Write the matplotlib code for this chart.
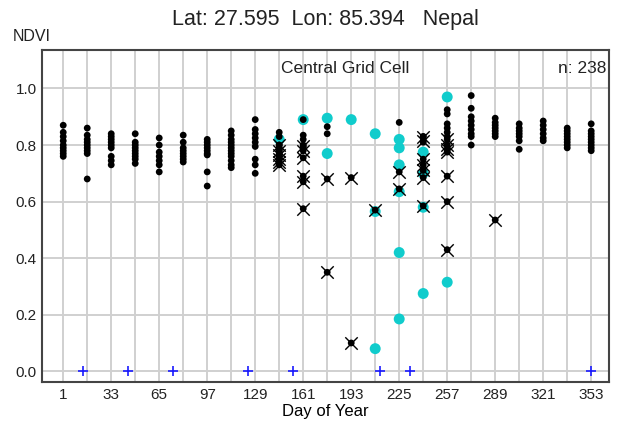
import matplotlib.pyplot as plt

plt.rcParams["font.family"] = ["Liberation Sans", "DejaVu Sans"]

days = list(range(1, 354, 16))
tick_days = list(range(1, 354, 32))

# black dots: NDVI values per composite day
ndvi = {
    1: [0.87, 0.845, 0.83, 0.815, 0.80, 0.79, 0.78, 0.77, 0.76],
    17: [0.86, 0.835, 0.82, 0.81, 0.80, 0.79, 0.78, 0.77, 0.68],
    33: [0.84, 0.83, 0.82, 0.81, 0.80, 0.79, 0.76, 0.745, 0.73],
    49: [0.84, 0.81, 0.80, 0.79, 0.78, 0.77, 0.76, 0.75, 0.735],
    65: [0.825, 0.80, 0.775, 0.76, 0.745, 0.73, 0.705],
    81: [0.835, 0.81, 0.79, 0.78, 0.77, 0.76, 0.75, 0.74],
    97: [0.82, 0.81, 0.80, 0.79, 0.78, 0.77, 0.765, 0.705, 0.655],
    113: [0.85, 0.835, 0.82, 0.81, 0.80, 0.79, 0.78, 0.77, 0.76, 0.745, 0.73, 0.72],
    129: [0.89, 0.855, 0.84, 0.825, 0.81, 0.795, 0.75, 0.73, 0.70],
    145: [0.845, 0.83, 0.80, 0.79, 0.78, 0.77, 0.76],
    161: [0.89, 0.835, 0.82, 0.80, 0.79],
    177: [0.865, 0.84],
    225: [0.88],
    241: [0.83, 0.81],
    257: [0.925, 0.91, 0.875, 0.86, 0.845, 0.83],
    273: [0.975, 0.93, 0.90, 0.885, 0.87, 0.855, 0.84, 0.83, 0.80],
    289: [0.895, 0.88, 0.87, 0.86, 0.85, 0.84, 0.83],
    305: [0.875, 0.86, 0.85, 0.84, 0.83, 0.815, 0.785],
    321: [0.885, 0.87, 0.855, 0.84, 0.825, 0.815],
    337: [0.86, 0.85, 0.84, 0.83, 0.82, 0.81, 0.80, 0.79],
    353: [0.875, 0.85, 0.84, 0.83, 0.82, 0.81, 0.80, 0.79, 0.78],
}

# cyan dots
cyan = {
    145: [0.82],
    161: [0.89],
    177: [0.895, 0.77],
    193: [0.89],
    209: [0.84, 0.565, 0.08],
    225: [0.82, 0.79, 0.73, 0.635, 0.42, 0.185],
    241: [0.775, 0.70, 0.58, 0.275],
    257: [0.97, 0.315],
}

# crossed black points
cross = {
    145: [0.80, 0.78, 0.765, 0.75, 0.74, 0.73],
    161: [0.795, 0.78, 0.755, 0.69, 0.67, 0.575],
    177: [0.68, 0.35],
    193: [0.685, 0.10],
    209: [0.57],
    225: [0.705, 0.645],
    241: [0.83, 0.815, 0.75, 0.73, 0.71, 0.685, 0.585],
    257: [0.82, 0.80, 0.785, 0.775, 0.69, 0.60, 0.43],
    289: [0.535],
}

# blue plus markers at zero
plus_days = [14, 44, 74, 124, 154, 212, 232, 353]


def flatten(d):
    xs, ys = [], []
    for k, vals in d.items():
        xs += [k] * len(vals)
        ys += vals
    return xs, ys


fig = plt.figure(figsize=(6.21, 4.24), dpi=100)
ax = fig.add_axes([0.068, 0.099, 0.913, 0.783])

for d in days:
    ax.axvline(d, color="#d0d0d0", lw=1.4, zorder=0)
for v in [0.0, 0.2, 0.4, 0.6, 0.8, 1.0]:
    ax.axhline(v, color="#d0d0d0", lw=1.4, zorder=0)

cx, cy = flatten(cyan)
ax.scatter(cx, cy, s=62, color="#10cccc", edgecolors="none", zorder=2)

bx, by = flatten(ndvi)
ax.scatter(bx, by, s=24, color="black", edgecolors="none", zorder=3)

xx, xy = flatten(cross)
ax.scatter(xx, xy, s=24, color="black", edgecolors="none", zorder=4)
ax.scatter(xx, xy, s=80, marker="x", color="black", linewidths=1.0, zorder=4)

ax.scatter(plus_days, [0] * len(plus_days), s=60, marker="+",
           color="#1a1aff", linewidths=1.2, zorder=5)

ax.set_xlim(-13, 365)
ax.set_ylim(-0.038, 1.136)
ax.set_xticks(tick_days)
ax.set_yticks([0.0, 0.2, 0.4, 0.6, 0.8, 1.0])
ax.set_yticklabels(["0.0", "0.2", "0.4", "0.6", "0.8", "1.0"])
ax.tick_params(length=0, labelsize=11, pad=4, colors="#222222")
for s in ax.spines.values():
    s.set_color("#444444")
    s.set_linewidth(1.5)

ax.set_xlabel("Day of Year", fontsize=12, labelpad=2)
ax.text(0.535, 0.945, "Central Grid Cell", transform=ax.transAxes,
        ha="center", va="center", fontsize=12.5, color="#222222")
ax.text(0.995, 0.945, "n: 238", transform=ax.transAxes,
        ha="right", va="center", fontsize=12.5, color="#222222")

fig.text(0.524, 0.955, "Lat: 27.595  Lon: 85.394   Nepal", ha="center",
         va="center", fontsize=15.5, color="#222222")
fig.text(0.02, 0.915, "NDVI", ha="left", va="center", fontsize=11.5,
         color="#222222")

fig.savefig("out.png", dpi=100)
